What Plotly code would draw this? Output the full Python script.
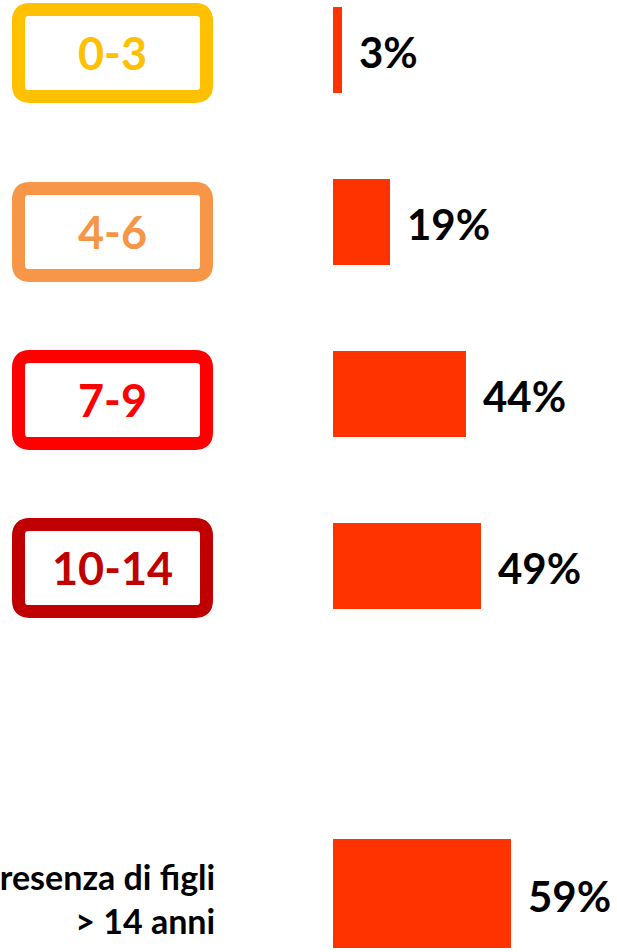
import plotly.graph_objects as go

# data
age_groups = ["0-3", "4-6", "7-9", "10-14"]
age_values = [3, 19, 44, 49]
box_colors = ["#FFC000", "#F79646", "#FF0000", "#C00000"]
older_group = ["> 14 anni"]
older_values = [59]
older_label = "Presenza di figli<br>> 14 anni"

BAR_COLOR = "#FF3300"
FONT = "Lato"

# page geometry (pixels)
W, H = 617, 952
PX_PER_PCT = 3.02
X0 = 333
BOX_TOPS = [3, 182, 350, 518]
BOX_LEFT, BOX_RIGHT, BOX_H, BOX_LINE = 12, 213, 100, 13


def px(v):
    return v / W


def py(v):
    return 1 - v / H


def box_path(x0, y0, x1, y1, r):
    return (f"M {px(x0 + r)},{py(y0)} L {px(x1 - r)},{py(y0)} Q {px(x1)},{py(y0)} {px(x1)},{py(y0 + r)} "
            f"L {px(x1)},{py(y1 - r)} Q {px(x1)},{py(y1)} {px(x1 - r)},{py(y1)} "
            f"L {px(x0 + r)},{py(y1)} Q {px(x0)},{py(y1)} {px(x0)},{py(y1 - r)} "
            f"L {px(x0)},{py(y0 + r)} Q {px(x0)},{py(y0)} {px(x0 + r)},{py(y0)} Z")


fig = go.Figure()
fig.add_trace(go.Bar(x=age_values, y=age_groups, orientation="h", width=0.5,
                     marker=dict(color=BAR_COLOR, line=dict(width=0)),
                     xaxis="x", yaxis="y", hoverinfo="skip"))
fig.add_trace(go.Bar(x=older_values, y=older_group, orientation="h", width=0.5,
                     marker=dict(color=BAR_COLOR, line=dict(width=0)),
                     xaxis="x", yaxis="y2", hoverinfo="skip"))

annotations = []
# value labels next to the bars
for g, v in zip(age_groups, age_values):
    annotations.append(dict(x=v, y=g, xref="x", yref="y", text=f"<b>{v}%</b>",
                            showarrow=False, xanchor="left", xshift=15, yshift=-2,
                            font=dict(family=FONT, size=42, color="black")))
for g, v in zip(older_group, older_values):
    annotations.append(dict(x=v, y=g, xref="x", yref="y2", text=f"<b>{v}%</b>",
                            showarrow=False, xanchor="left", xshift=15, yshift=-2,
                            font=dict(family=FONT, size=42, color="black")))

# rounded boxes with the age ranges
shapes = []
half = BOX_LINE / 2
for g, c, top in zip(age_groups, box_colors, BOX_TOPS):
    shapes.append(dict(type="path", xref="paper", yref="paper",
                       path=box_path(BOX_LEFT + half, top + half, BOX_RIGHT - half,
                                     top + BOX_H - half, 11),
                       line=dict(color=c, width=BOX_LINE), fillcolor="rgba(0,0,0,0)"))
    annotations.append(dict(x=px((BOX_LEFT + BOX_RIGHT) / 2), y=py(top + BOX_H / 2),
                            xref="paper", yref="paper", text=f"<b>{g}</b>",
                            showarrow=False, xanchor="center", yanchor="middle",
                            font=dict(family=FONT, size=45, color=c)))

annotations.append(dict(x=px(217), y=py(898), xref="paper", yref="paper",
                        text=f"<b>{older_label}</b>", showarrow=False,
                        xanchor="right", yanchor="middle", align="right",
                        font=dict(family=FONT, size=34, color="black")))

fig.update_layout(
    width=W, height=H,
    margin=dict(l=0, r=0, t=0, b=0),
    paper_bgcolor="white", plot_bgcolor="white",
    showlegend=False,
    bargap=0,
    xaxis=dict(range=[-X0 / PX_PER_PCT, (W - X0) / PX_PER_PCT], visible=False, fixedrange=True),
    yaxis=dict(domain=[1 - 652 / H, 1], range=[3.5, -49.5 / 172], visible=False, type="category"),
    yaxis2=dict(domain=[0, 1 - 700 / H], range=[0.268, -0.8876], visible=False, type="category",
                anchor="x"),
    shapes=shapes,
    annotations=annotations,
)

# drop the default page margin so the figure sits at the window's corner
fig.write_html("out.html", config={"displayModeBar": False},
               post_script="document.body.style.margin='0';")
